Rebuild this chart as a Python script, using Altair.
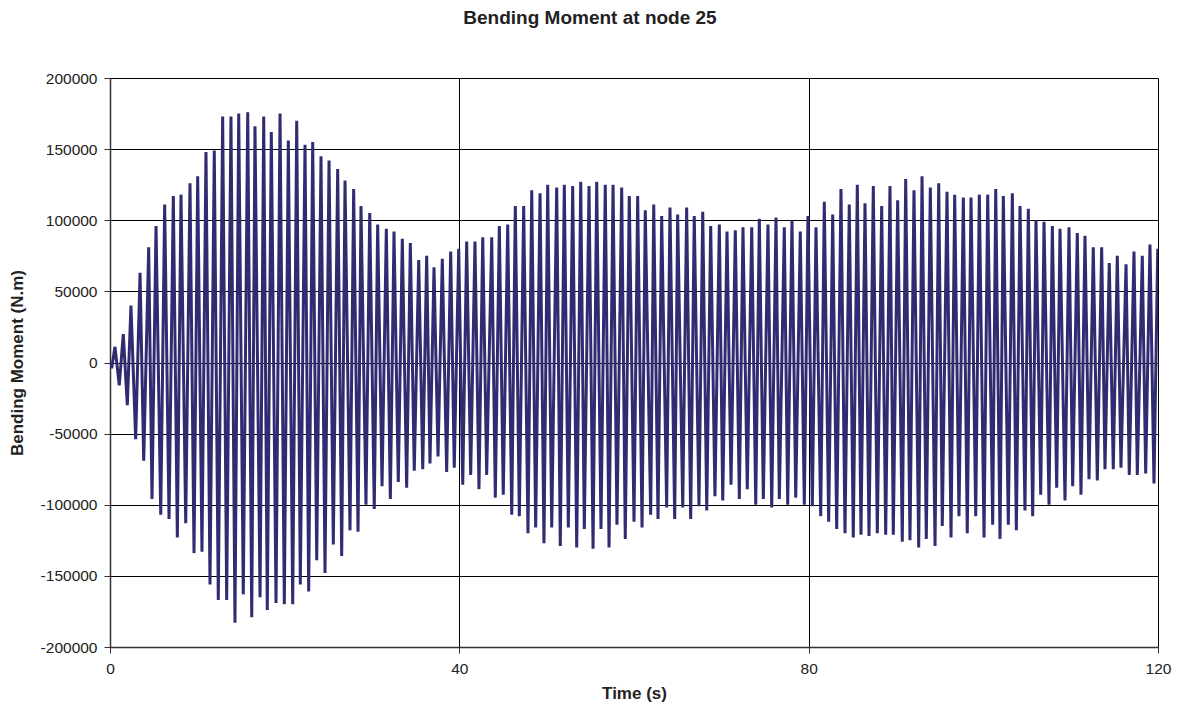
import altair as alt
import pandas as pd

# Time (s) of each positive peak
peak_t = [0.57, 1.52, 2.40, 3.44, 4.43, 5.27, 6.26, 7.25, 8.13, 9.16,
          10.04, 10.99, 11.94, 12.90, 13.85, 14.74, 15.77, 16.60, 17.60, 18.47,
          19.47, 20.42, 21.38, 22.33, 23.21, 24.16, 25.08, 26.07, 26.91, 27.90,
          28.74, 29.74, 30.65, 31.64, 32.52, 33.47, 34.39, 35.35, 36.26, 37.10,
          38.05, 39.01, 39.93, 40.84, 41.79, 42.68, 43.71, 44.58, 45.54, 46.41,
          47.37, 48.29, 49.24, 50.12, 51.15, 52.02, 52.98, 53.90, 54.85, 55.73,
          56.71, 57.60, 58.59, 59.46, 60.42, 61.29, 62.26, 63.17, 64.12, 65.00,
          66.03, 66.90, 67.87, 68.78, 69.77, 70.65, 71.60, 72.48, 73.48, 74.35,
          75.34, 76.26, 77.21, 78.09, 79.04, 79.92, 80.84, 81.79, 82.75, 83.70,
          84.65, 85.57, 86.45, 87.40, 88.36, 89.31, 90.19, 91.11, 92.06, 92.98,
          93.93, 94.89, 95.84, 96.72, 97.71, 98.59, 99.54, 100.50, 101.42, 102.29,
          103.32, 104.20, 105.15, 106.03, 106.95, 107.90, 108.78, 109.81, 110.76, 111.64,
          112.59, 113.55, 114.42, 115.34, 116.34, 117.25, 118.20, 119.08, 119.97]

# Peak values (thousands of N.m)
peak_v = [11, 20, 40, 63, 81, 96, 111, 117, 118, 126,
          131, 148, 149, 173, 173, 175, 176, 166, 173, 162,
          175, 156, 170, 153, 155, 145, 142, 136, 128, 122,
          110, 105, 97, 94, 92, 87, 84, 72, 75, 67,
          73, 78, 80, 85, 85, 88, 88, 96, 97, 110,
          110, 121, 119, 125, 123, 125, 124, 127, 124, 127,
          125, 125, 123, 117, 117, 107, 111, 103, 109, 104,
          109, 103, 106, 96, 97, 92, 93, 95, 95, 101,
          97, 102, 95, 100, 92, 103, 95, 113, 104, 122,
          111, 125, 112, 124, 110, 124, 114, 129, 121, 131,
          123, 126, 120, 118, 116, 116, 118, 118, 122, 117,
          119, 110, 108, 100, 99, 96, 94, 95, 91, 89,
          81, 81, 70, 75, 69, 78, 75, 83, 80]

# Time (s) of each trough
trough_t = [0.19, 1.06, 1.98, 2.94, 3.86, 4.81, 5.81, 6.76, 7.71, 8.67,
            9.62, 10.53, 11.45, 12.40, 13.36, 14.31, 15.26, 16.23, 17.18, 18.01,
            19.01, 19.96, 20.92, 21.79, 22.75, 23.67, 24.62, 25.57, 26.53, 27.48,
            28.40, 29.31, 30.26, 31.15, 32.10, 33.01, 33.97, 34.84, 35.81, 36.64,
            37.56, 38.55, 39.42, 40.39, 41.30, 42.25, 43.13, 44.12, 45.03, 46.00,
            46.87, 47.86, 48.74, 49.69, 50.58, 51.56, 52.48, 53.44, 54.31, 55.31,
            56.22, 57.14, 58.05, 59.00, 60.00, 60.92, 61.91, 62.75, 63.74, 64.66,
            65.58, 66.49, 67.44, 68.33, 69.27, 70.16, 71.11, 72.06, 72.97, 73.94,
            74.81, 75.77, 76.64, 77.60, 78.52, 79.50, 80.42, 81.38, 82.29, 83.21,
            84.16, 85.11, 85.99, 86.91, 87.86, 88.82, 89.69, 90.72, 91.60, 92.60,
            93.47, 94.47, 95.30, 96.30, 97.21, 98.16, 99.13, 100.08, 101.07, 101.91,
            102.86, 103.78, 104.77, 105.65, 106.57, 107.52, 108.40, 109.35, 110.23, 111.18,
            112.10, 113.05, 113.93, 114.88, 115.76, 116.71, 117.63, 118.59, 119.54]

# Trough values (thousands of N.m)
trough_v = [-4, -16, -30, -54, -69, -96, -107, -110, -123, -113,
            -134, -133, -156, -167, -167, -183, -163, -179, -165, -174,
            -169, -170, -170, -156, -161, -139, -148, -128, -136, -118,
            -119, -100, -103, -87, -96, -84, -88, -76, -75, -71,
            -66, -77, -74, -86, -79, -89, -79, -95, -93, -107,
            -108, -120, -116, -127, -116, -129, -116, -130, -117, -131,
            -117, -130, -114, -124, -112, -116, -107, -110, -102, -110,
            -102, -110, -101, -104, -94, -97, -86, -96, -89, -100,
            -96, -102, -96, -100, -95, -100, -101, -108, -112, -117,
            -120, -123, -121, -122, -120, -121, -121, -126, -125, -130,
            -124, -129, -115, -123, -108, -120, -108, -123, -114, -124,
            -114, -118, -104, -108, -93, -100, -88, -97, -87, -93,
            -82, -83, -75, -75, -74, -79, -79, -78, -85]

start_t = [0.0]
start_v = [0]

x_ticks = [0, 40, 80, 120]
y_ticks = [-200000, -150000, -100000, -50000, 0, 50000, 100000, 150000, 200000]

times = start_t + peak_t + trough_t
values = [v * 1000 for v in start_v + peak_v + trough_v]
df = pd.DataFrame({"t": times, "m": values}).sort_values("t").reset_index(drop=True)
df["order"] = range(len(df))

FONT = "Liberation Sans"
TXT = "#222222"

line = alt.Chart(df).mark_line(color="#302C72", strokeWidth=3, clip=True).encode(
    x=alt.X("t:Q",
            scale=alt.Scale(domain=[0, 120], nice=False, zero=False),
            axis=alt.Axis(title="Time (s)", values=x_ticks, labelExpr="'' + datum.value",
                          labelFlush=False,
                          grid=True, gridColor="#000000", gridWidth=1,
                          domainColor="#333333", domainWidth=1.5,
                          tickColor="#333333", tickSize=6,
                          labelFont=FONT, labelFontSize=15.5, labelColor=TXT,
                          labelPadding=8,
                          titleFont=FONT, titleFontSize=17, titleFontWeight="bold",
                          titleColor=TXT, titlePadding=9)),
    y=alt.Y("m:Q",
            scale=alt.Scale(domain=[-200000, 200000], nice=False),
            axis=alt.Axis(title="Bending Moment (N.m)", values=y_ticks,
                          labelExpr="'' + datum.value", labelFlush=False,
                          grid=True, gridColor="#000000", gridWidth=1,
                          domainColor="#333333", domainWidth=1.5,
                          tickColor="#333333", tickSize=6,
                          labelFont=FONT, labelFontSize=15.5, labelColor=TXT,
                          labelPadding=7,
                          titleFont=FONT, titleFontSize=17, titleFontWeight="bold",
                          titleColor=TXT, titlePadding=14)),
    order="order:Q",
)

chart = line.properties(
    width=1048,
    height=569,
    autosize=alt.AutoSizeParams(type="none"),
    padding={"left": 110, "top": 78, "right": 23, "bottom": 61},
    title=alt.TitleParams("Bending Moment at node 25", font=FONT, fontSize=19,
                          fontWeight="bold", color=TXT, anchor="middle",
                          dx=-44, offset=43),
).configure_view(
    stroke="#888888", strokeWidth=2, fill="white"
).configure(background="white")

chart.save("out.html", embed_options={"renderer": "svg", "actions": False})
